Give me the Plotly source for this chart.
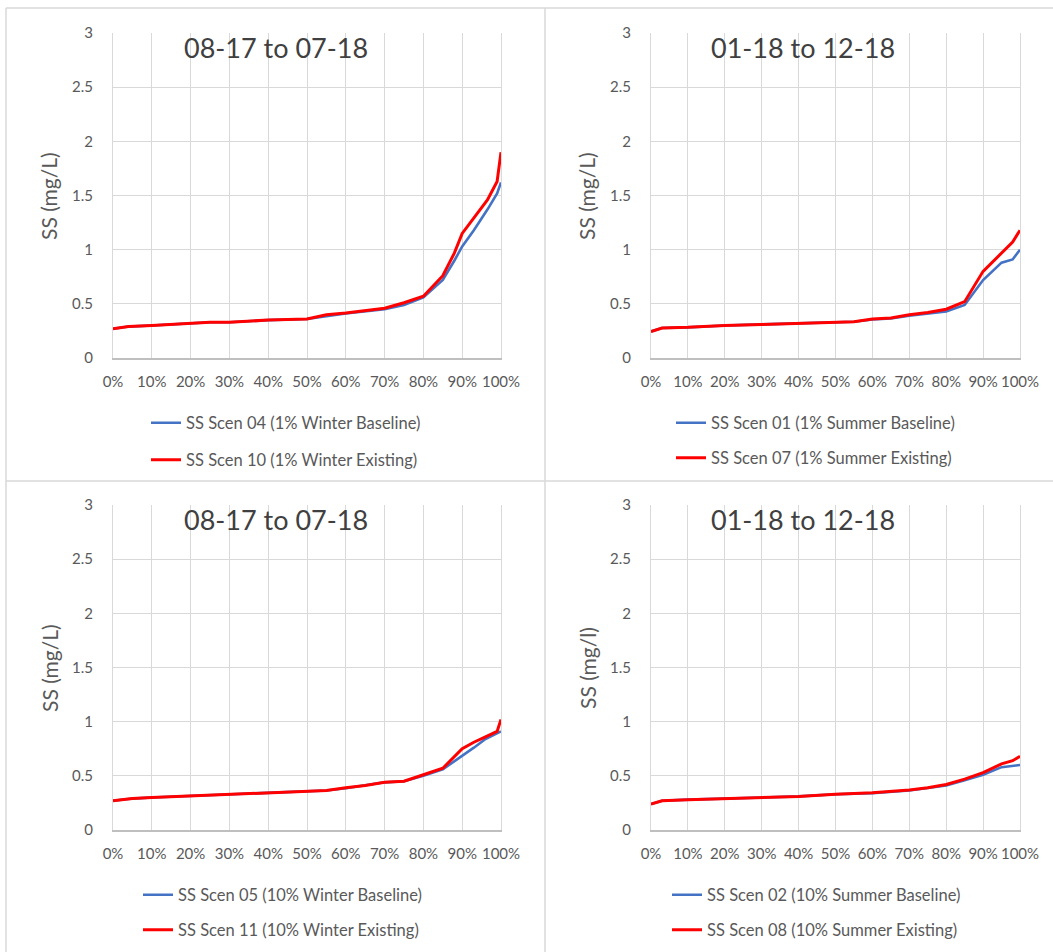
import plotly.graph_objects as go

# ---------------- data ----------------
x_tick_vals = [0, 10, 20, 30, 40, 50, 60, 70, 80, 90, 100]
x_tick_labels = ["0%", "10%", "20%", "30%", "40%", "50%", "60%", "70%", "80%", "90%", "100%"]
y_tick_vals = [0, 0.5, 1, 1.5, 2, 2.5, 3]
y_tick_labels = ["0", "0.5", "1", "1.5", "2", "2.5", "3"]

titles = ["08-17 to 07-18", "01-18 to 12-18", "08-17 to 07-18", "01-18 to 12-18"]
y_titles = ["SS (mg/L)", "SS (mg/L)", "SS (mg/L)", "SS (mg/l)"]

# Panel 1 (top-left)
p1_x = [0, 4, 10, 20, 25, 30, 40, 50, 55, 60, 70, 75, 80, 85, 88, 90, 93, 96.5, 99, 100]
p1_scen04 = [0.27, 0.29, 0.30, 0.32, 0.33, 0.33, 0.35, 0.36, 0.385, 0.41, 0.45, 0.49, 0.56, 0.72, 0.90, 1.03, 1.18, 1.37, 1.52, 1.62]
p1_scen10 = [0.27, 0.29, 0.30, 0.32, 0.33, 0.33, 0.35, 0.36, 0.40, 0.415, 0.46, 0.51, 0.57, 0.76, 0.97, 1.15, 1.29, 1.46, 1.63, 1.90]

# Panel 2 (top-right)
p2_x = [0, 3, 10, 20, 30, 40, 50, 55, 60, 65, 70, 75, 80, 85, 90, 95, 98, 100]
p2_scen01 = [0.245, 0.277, 0.283, 0.30, 0.31, 0.32, 0.33, 0.335, 0.355, 0.365, 0.39, 0.41, 0.43, 0.49, 0.72, 0.88, 0.91, 1.00]
p2_scen07 = [0.245, 0.277, 0.283, 0.30, 0.31, 0.32, 0.33, 0.335, 0.36, 0.37, 0.40, 0.42, 0.45, 0.52, 0.80, 0.97, 1.07, 1.18]

# Panel 3 (bottom-left)
p3_x = [0, 5, 10, 20, 30, 40, 50, 55, 60, 65, 70, 75, 80, 85, 90, 93, 96, 99, 100]
p3_scen05 = [0.27, 0.29, 0.30, 0.315, 0.325, 0.345, 0.355, 0.365, 0.385, 0.41, 0.44, 0.45, 0.50, 0.56, 0.68, 0.76, 0.84, 0.89, 0.91]
p3_scen11 = [0.27, 0.29, 0.30, 0.315, 0.325, 0.345, 0.355, 0.365, 0.39, 0.41, 0.44, 0.45, 0.51, 0.57, 0.75, 0.81, 0.86, 0.91, 1.02]

# Panel 4 (bottom-right)
p4_x = [0, 3, 10, 20, 30, 40, 50, 60, 70, 75, 80, 85, 90, 95, 98, 100]
p4_scen02 = [0.24, 0.27, 0.28, 0.29, 0.30, 0.31, 0.33, 0.34, 0.365, 0.385, 0.41, 0.46, 0.51, 0.58, 0.595, 0.60]
p4_scen08 = [0.24, 0.27, 0.28, 0.29, 0.30, 0.31, 0.33, 0.345, 0.37, 0.39, 0.42, 0.47, 0.53, 0.61, 0.64, 0.68]

series_names = [
    ("SS Scen 04 (1% Winter Baseline)", "SS Scen 10 (1% Winter Existing)"),
    ("SS Scen 01 (1% Summer Baseline)", "SS Scen 07 (1% Summer Existing)"),
    ("SS Scen 05 (10% Winter Baseline)", "SS Scen 11 (10% Winter Existing)"),
    ("SS Scen 02 (10% Summer Baseline)", "SS Scen 08 (10% Summer Existing)"),
]
panel_data = [
    (p1_x, p1_scen04, p1_scen10),
    (p2_x, p2_scen01, p2_scen07),
    (p3_x, p3_scen05, p3_scen11),
    (p4_x, p4_scen02, p4_scen08),
]

# ---------------- layout geometry (pixels) ----------------
W, H = 1053, 952
FONT = "Lato, 'Open Sans', sans-serif"
GRAY = "#595959"
BLUE = "#4472C4"
RED = "#FF0000"

# plot areas: (left, right, top, bottom)
areas = [(113, 501, 33, 358), (651, 1020, 33, 358), (113, 501, 505, 830), (651, 1020, 505, 830)]
title_pos = [(276, 47), (803, 47), (276, 519), (803, 519)]
ytitle_pos = [(49, 196), (587, 196), (49, 668), (587, 668)]
legend_pos = [((146, 423), (146, 460)), ((671, 423), (671, 458)),
              ((138, 895), (138, 930)), ((667, 895), (667, 930))]


def px_x(v):
    return v / W


def px_y(v):
    return 1 - v / H


fig = go.Figure()
layout = dict(
    width=W, height=H, margin=dict(l=0, r=0, t=0, b=0, pad=0, autoexpand=False),
    paper_bgcolor="white", plot_bgcolor="white",
    font=dict(family=FONT, color=GRAY),
    showlegend=True,
)
annotations = []
shapes = []

leg_idx = 0
for i, (xs, base, exist) in enumerate(panel_data):
    n = i + 1
    xa = "x" if n == 1 else f"x{n}"
    ya = "y" if n == 1 else f"y{n}"
    for name, vals, color, width in [(series_names[i][0], base, BLUE, 2.6),
                                     (series_names[i][1], exist, RED, 3)]:
        leg_idx += 1
        lname = "legend" if leg_idx == 1 else f"legend{leg_idx}"
        fig.add_trace(go.Scatter(
            x=xs, y=vals, mode="lines", name=name,
            line=dict(color=color, width=width),
            xaxis=xa, yaxis=ya, legend=lname,
        ))
        lx, ly = legend_pos[i][0 if color == BLUE else 1]
        layout[lname] = dict(
            x=px_x(lx), y=px_y(ly), xanchor="left", yanchor="middle",
            xref="paper", yref="paper", bgcolor="rgba(0,0,0,0)",
            font=dict(family=FONT, size=16.5, color=GRAY),
        )

    l, r, t, b = areas[i]
    xkey = "xaxis" if n == 1 else f"xaxis{n}"
    ykey = "yaxis" if n == 1 else f"yaxis{n}"
    layout[xkey] = dict(
        domain=[px_x(l), px_x(r)], range=[0, 100], anchor=ya,
        tickvals=x_tick_vals, ticktext=x_tick_labels,
        showgrid=True, gridcolor="#d9d9d9", gridwidth=1,
        showline=True, linecolor="#bfbfbf", linewidth=1.5,
        zeroline=False, ticks="", ticklabelstandoff=9,
        tickfont=dict(family=FONT, size=15, color=GRAY),
        fixedrange=True, automargin=False,
    )
    layout[ykey] = dict(
        domain=[px_y(b), px_y(t)], range=[0, 3], anchor=xa,
        tickvals=y_tick_vals, ticktext=y_tick_labels,
        showgrid=True, gridcolor="#d9d9d9", gridwidth=1,
        showline=True, linecolor="#d9d9d9", linewidth=1, mirror=True,
        zeroline=False, ticks="", ticklabelstandoff=16,
        tickfont=dict(family=FONT, size=15, color=GRAY),
        fixedrange=True, automargin=False,
    )
    tx, ty = title_pos[i]
    annotations.append(dict(
        text=titles[i], x=px_x(tx), y=px_y(ty), xref="paper", yref="paper",
        xanchor="center", yanchor="middle", showarrow=False,
        font=dict(family=FONT, size=27, color="#404040"),
    ))
    yx, yy = ytitle_pos[i]
    annotations.append(dict(
        text=y_titles[i], x=px_x(yx), y=px_y(yy), xref="paper", yref="paper",
        xanchor="center", yanchor="middle", showarrow=False, textangle=-90,
        font=dict(family=FONT, size=21, color=GRAY),
    ))

# panel frame lines
frame_lines = [
    (6, 8, W, 8),        # top
    (6, 8, 6, H),        # left
    (545, 8, 545, H),    # vertical divider
    (6, 481, W, 481),    # horizontal divider
]
for x0, y0, x1, y1 in frame_lines:
    shapes.append(dict(type="line", xref="paper", yref="paper",
                       x0=px_x(x0), y0=px_y(y0), x1=px_x(x1), y1=px_y(y1),
                       line=dict(color="#d9d9d9", width=1.5)))

layout["annotations"] = annotations
layout["shapes"] = shapes
fig.update_layout(**layout)

fig.write_html(
    "out.html",
    config={"displayModeBar": False},
    post_script="document.body.style.margin='0';document.body.style.overflow='hidden';",
)
